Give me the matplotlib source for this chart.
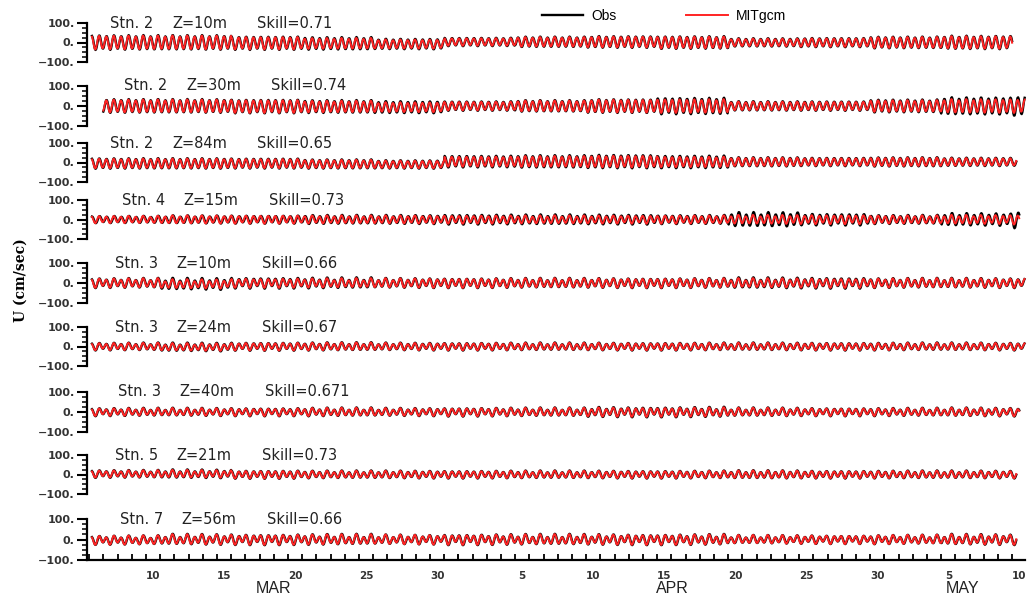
import numpy as np
import matplotlib.pyplot as plt
import matplotlib.transforms as mtransforms

plt.rcParams['font.family'] = ['Liberation Sans', 'DejaVu Sans']

# time axis: days counted from 1 Mar 00:00
x_start, x_end = 4.85, 70.9
block_edges = np.arange(5, 80, 5)      # 5-day blocks, 5 .. 75

stations = ['Stn. 2', 'Stn. 2', 'Stn. 2', 'Stn. 4', 'Stn. 3', 'Stn. 3', 'Stn. 3', 'Stn. 5', 'Stn. 7']
depths = ['Z=10m', 'Z=30m', 'Z=84m', 'Z=15m', 'Z=10m', 'Z=24m', 'Z=40m', 'Z=21m', 'Z=56m']
skills = ['Skill=0.71', 'Skill=0.74', 'Skill=0.65', 'Skill=0.73', 'Skill=0.66',
          'Skill=0.67', 'Skill=0.671', 'Skill=0.73', 'Skill=0.66']

# record start / end (days)
rec_start = [5.2, 6.0, 5.2, 5.2, 5.2, 5.2, 5.2, 5.2, 5.2]
rec_end = [70.0, 70.9, 70.3, 70.5, 70.9, 70.9, 70.5, 70.3, 70.3]

# semi-diurnal amplitude per 5-day block (cm/s)
obs_amp = [
    [35, 35, 32, 30, 25, 20, 25, 28, 30, 20, 22, 28, 32, 30],
    [32, 32, 32, 30, 28, 22, 27, 32, 38, 22, 22, 30, 40, 45],
    [25, 25, 24, 22, 20, 28, 30, 32, 30, 22, 20, 22, 20, 18],
    [16, 18, 18, 20, 20, 22, 22, 22, 20, 32, 26, 20, 28, 38],
    [20, 24, 22, 22, 20, 20, 20, 20, 20, 22, 22, 20, 20, 20],
    [16, 18, 17, 17, 16, 16, 16, 16, 16, 16, 16, 16, 16, 16],
    [16, 16, 16, 17, 16, 17, 17, 20, 20, 17, 16, 16, 17, 17],
    [16, 18, 17, 16, 16, 16, 16, 16, 16, 17, 16, 16, 16, 16],
    [17, 20, 20, 20, 18, 20, 20, 20, 20, 16, 16, 17, 20, 20],
]
mod_amp = [
    [33, 33, 30, 26, 22, 18, 23, 26, 28, 18, 20, 26, 30, 28],
    [30, 30, 30, 27, 23, 20, 25, 30, 32, 20, 20, 27, 32, 32],
    [23, 23, 22, 20, 18, 24, 26, 28, 25, 20, 18, 20, 18, 16],
    [16, 18, 18, 18, 18, 18, 18, 18, 18, 20, 20, 18, 20, 22],
    [19, 19, 19, 19, 19, 19, 19, 19, 19, 19, 19, 19, 19, 19],
    [15, 16, 16, 16, 15, 15, 15, 15, 15, 15, 15, 15, 15, 15],
    [15, 15, 15, 16, 15, 16, 16, 18, 18, 16, 15, 15, 16, 16],
    [15, 16, 16, 15, 15, 15, 15, 15, 15, 16, 15, 15, 15, 15],
    [17, 19, 19, 19, 18, 19, 19, 19, 19, 16, 16, 17, 19, 19],
]
# block mean flow (cm/s)
mean_flow = [
    [0, 0, -3, -5, -8, 3, 3, 3, 0, 0, 0, 0, 0, 0],
    [0, 0, -2, -3, -6, 0, 0, 0, 0, 0, 0, 0, 0, 0],
    [-5, -5, -5, -8, -10, 5, 5, 5, 3, 3, 3, 3, 3, 3],
    [0, 0, 0, 0, 0, 0, 0, 0, 0, 0, 0, 0, 0, 0],
    [0, -5, 0, 0, 0, 0, 0, 0, 0, 0, 0, 0, 0, 0],
    [0, -3, 0, 0, 0, 0, 0, 0, 0, 0, 0, 0, 0, 0],
    [0, 0, 0, 0, 0, 0, 0, 0, 0, 0, 0, 0, 0, 0],
    [3, 3, 0, 0, 0, 0, 0, 0, 0, 0, 0, 0, 0, 0],
    [-3, 0, 0, 0, 0, 0, 0, 0, 0, 0, 0, 0, 0, 0],
]
# diurnal share of the signal and obs-model lag (hours)
diurnal = [0.1, 0.1, 0.1, 0.2, 0.3, 0.3, 0.35, 0.3, 0.4]
lag_hr = [0.5, 0.5, 0.5, 1.0, 0.5, 0.5, 0.5, 0.5, 0.5]

# vertical placement of the panels: pixel rows of +100 and -100
row_top = [23, 86, 143, 200, 263, 327, 392, 455, 519]
row_bot = [62, 126, 182, 239, 303, 366, 432, 494, 560]
title_x = [6.47, 7.45, 6.47, 7.3, 6.8, 6.8, 7.0, 6.8, 7.15]

W, H = 1028, 598
fig = plt.figure(figsize=(W / 100, H / 100), dpi=100)

T_M2 = 12.42 / 24
T_K1 = 23.93 / 24

def series(t, amp, mean, k1, lag):
    i = np.clip(np.searchsorted(block_edges, t, side='right') - 1, 0, len(amp) - 1)
    a = np.asarray(amp, float)[i]
    m = np.asarray(mean, float)[i]
    tt = t - lag / 24
    return (a * np.cos(2 * np.pi * tt / T_M2)
            + k1 * a * np.cos(2 * np.pi * tt / T_K1 + 0.7) + m)

left_px, right_px = 87, 1025
axes = []
for k in range(9):
    ax = fig.add_axes([left_px / W, 1 - row_bot[k] / H,
                       (right_px - left_px) / W, (row_bot[k] - row_top[k]) / H])
    axes.append(ax)
    t = np.arange(rec_start[k], rec_end[k], 1 / 24)
    u_obs = series(t, obs_amp[k], mean_flow[k], diurnal[k], lag_hr[k])
    u_mod = series(t, mod_amp[k], mean_flow[k], diurnal[k], 0)
    l_obs, = ax.plot(t, u_obs, color='black', lw=1.7, clip_on=False)
    l_mod, = ax.plot(t, u_mod, color='#ff2424', lw=1.4, clip_on=False)

    ax.set_xlim(x_start, x_end)
    ax.set_ylim(-100, 100)
    for s in ['top', 'right']:
        ax.spines[s].set_visible(False)
    if k < 8:
        ax.spines['bottom'].set_visible(False)
        ax.set_xticks([])
    ax.spines['left'].set_linewidth(1.6)
    ax.set_yticks([-100, 0, 100])
    ax.set_yticklabels(['\u2212100.', '0.', '100.'], fontsize=8, fontweight='bold',
                       color='#333333', family='DejaVu Sans')
    ax.set_yticks([-75, -50, -25, 25, 50, 75], minor=True)
    ax.tick_params(axis='y', which='major', direction='out', length=7, width=1.5, pad=2)
    ax.tick_params(axis='y', which='minor', direction='out', length=3.5, width=1.1)
    ax.patch.set_visible(False)

    x0 = title_x[k]
    for dx, s in zip([0, 4.37, 10.35], [stations[k], depths[k], skills[k]]):
        ax.text(x0 + dx, 100, s, fontsize=10.5, va='center', color='#222222',
                family='DejaVu Sans')

# bottom time axis: day ticks at midnight, labels at noon
ax = axes[-1]
ax.spines['bottom'].set_linewidth(1.6)
day_lab = [10, 15, 20, 25, 30, 5, 10, 15, 20, 25, 30, 5, 10]
month_start = [0, 0, 0, 0, 0, 31, 31, 31, 31, 31, 31, 61, 61]
ax.set_xticks([m + d - 0.5 for d, m in zip(day_lab, month_start)])
ax.set_xticklabels([str(d) for d in day_lab], fontsize=7.5, fontweight='bold',
                   color='#333333', family='DejaVu Sans')
ax.set_xticks([d for d in range(5, 71) if d not in (31, 61)], minor=True)
ax.tick_params(axis='x', which='major', length=0, pad=8)
ax.tick_params(axis='x', which='minor', direction='in', length=4, width=1.3)

# month boundaries and names
for mb in [31, 61]:
    ax.plot([mb, mb], [-100, -78], color='black', lw=1.4, clip_on=False)
trans = mtransforms.blended_transform_factory(ax.transData, ax.transAxes)
for name, xc in zip(['MAR', 'APR', 'MAY'], [17.95, 46.05, 66.5]):
    ax.text(xc, -0.7, name, transform=trans, ha='center', va='center', fontsize=11.5,
            color='#222222')

fig.text(21 / W, 1 - 280 / H, 'U (cm/sec)', rotation=90, ha='center', va='center',
         fontsize=10, family='DejaVu Serif', fontweight='bold')

fig.legend([l_obs, l_mod], ['Obs', 'MITgcm'], loc='center', bbox_to_anchor=(664 / W, 1 - 16 / H),
           ncol=2, frameon=False, fontsize=10, handlelength=3.0, columnspacing=5.0,
           handletextpad=0.6)

fig.savefig('out.png', dpi=100)
